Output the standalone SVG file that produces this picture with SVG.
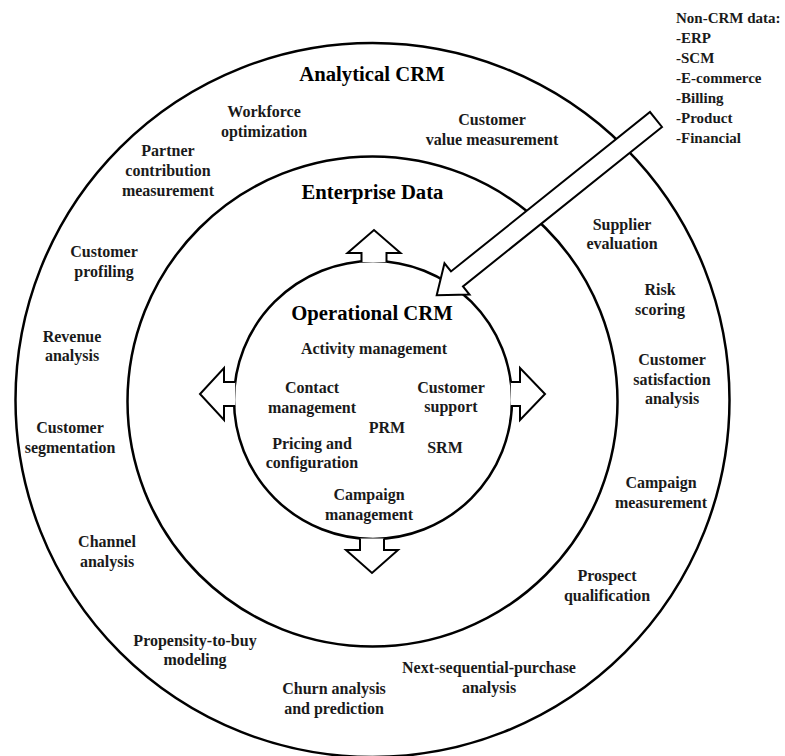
<svg xmlns="http://www.w3.org/2000/svg" width="785" height="756" viewBox="0 0 785 756">
  <style>
    .ring { fill: none; stroke: #000; stroke-width: 2.5; }
    .blk { fill: #fff; stroke: #000; stroke-width: 2; stroke-linejoin: miter; }
    text { font-family: "Liberation Serif", "Times New Roman", serif; font-weight: bold; fill: #1a1a1a; }
    .lbl { font-size: 16px; text-anchor: middle; }
    .head { font-size: 20.7px; text-anchor: middle; fill: #000; }
    .lst { font-size: 15px; text-anchor: start; }
  </style>
  <rect width="785" height="756" fill="#fff"/>

  <!-- Analytical CRM ring -->
  <g id="analytical-crm">
    <circle class="ring" cx="372.5" cy="400" r="357"/>
    <text class="head" x="372" y="81">Analytical CRM</text>
    <text class="lbl" x="264" y="117">Workforce</text>
    <text class="lbl" x="264" y="137">optimization</text>
    <text class="lbl" x="168" y="156">Partner</text>
    <text class="lbl" x="168" y="176">contribution</text>
    <text class="lbl" x="168" y="196">measurement</text>
    <text class="lbl" x="492" y="125">Customer</text>
    <text class="lbl" x="492" y="145">value measurement</text>
    <text class="lbl" x="104" y="257">Customer</text>
    <text class="lbl" x="104" y="277">profiling</text>
    <text class="lbl" x="622" y="230">Supplier</text>
    <text class="lbl" x="622" y="249">evaluation</text>
    <text class="lbl" x="660" y="295">Risk</text>
    <text class="lbl" x="660" y="315">scoring</text>
    <text class="lbl" x="72" y="342">Revenue</text>
    <text class="lbl" x="72" y="361">analysis</text>
    <text class="lbl" x="672" y="365">Customer</text>
    <text class="lbl" x="672" y="385">satisfaction</text>
    <text class="lbl" x="672" y="404">analysis</text>
    <text class="lbl" x="70" y="433">Customer</text>
    <text class="lbl" x="70" y="453">segmentation</text>
    <text class="lbl" x="661" y="488">Campaign</text>
    <text class="lbl" x="661" y="508">measurement</text>
    <text class="lbl" x="107" y="547">Channel</text>
    <text class="lbl" x="107" y="567">analysis</text>
    <text class="lbl" x="607" y="581">Prospect</text>
    <text class="lbl" x="607" y="601">qualification</text>
    <text class="lbl" x="195" y="646">Propensity-to-buy</text>
    <text class="lbl" x="195" y="665">modeling</text>
    <text class="lbl" x="489" y="673">Next-sequential-purchase</text>
    <text class="lbl" x="489" y="693">analysis</text>
    <text class="lbl" x="334" y="694">Churn analysis</text>
    <text class="lbl" x="334" y="714">and prediction</text>
  </g>

  <!-- Enterprise Data ring -->
  <g id="enterprise-data">
    <circle class="ring" cx="372.5" cy="401.5" r="245"/>
    <text class="head" x="372.5" y="199">Enterprise Data</text>
  </g>

  <!-- Operational CRM core -->
  <g id="operational-crm">
    <circle class="ring" cx="373" cy="400" r="139"/>
    <text class="head" x="372" y="320">Operational CRM</text>
    <text class="lbl" x="374" y="354">Activity management</text>
    <text class="lbl" x="312" y="393">Contact</text>
    <text class="lbl" x="312" y="413">management</text>
    <text class="lbl" x="451" y="393">Customer</text>
    <text class="lbl" x="451" y="412">support</text>
    <text class="lbl" x="387" y="433">PRM</text>
    <text class="lbl" x="312" y="449">Pricing and</text>
    <text class="lbl" x="312" y="468">configuration</text>
    <text class="lbl" x="445" y="453">SRM</text>
    <text class="lbl" x="369" y="500">Campaign</text>
    <text class="lbl" x="369" y="520">management</text>
  </g>

  <!-- Non-CRM data sources -->
  <g id="non-crm-data">
    <text class="lst" x="676" y="23">Non-CRM data:</text>
    <text class="lst" x="676" y="43">-ERP</text>
    <text class="lst" x="676" y="63">-SCM</text>
    <text class="lst" x="676" y="83">-E-commerce</text>
    <text class="lst" x="676" y="103">-Billing</text>
    <text class="lst" x="676" y="123">-Product</text>
    <text class="lst" x="676" y="143">-Financial</text>
  </g>

  <!-- Block arrows -->
  <g id="connectors">
    <path class="blk" d="M361.5,262 V253 H347.5 L374,230 L400.5,253 H386.5 V262"/>
    <path class="blk" d="M360,538.4 V550 H346 L372,573 L398,550 H384 V538.4"/>
    <path class="blk" d="M235.2,382 H224 V368 L200,394 L224,420 V406 H235.2"/>
    <path class="blk" d="M510.8,382 H520 V368 L545,394 L520,420 V406 H510.8"/>
    <path class="blk" transform="translate(656,119.5) rotate(141.3)" d="M0,-9.6 H255 V-20 L281,0 L255,20 V9.6 H0 Z"/>
  </g>
</svg>
